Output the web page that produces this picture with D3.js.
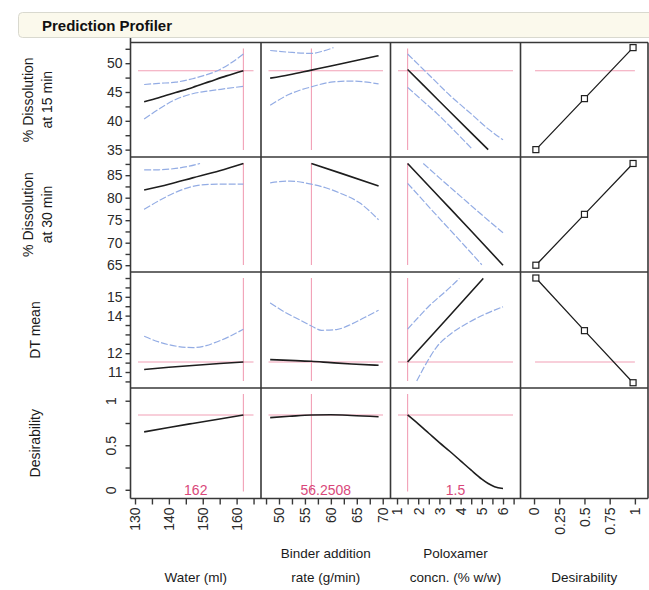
<!DOCTYPE html>
<html><head><meta charset="utf-8">
<script src="https://cdn.jsdelivr.net/npm/d3@7"></script>
<style>
body{margin:0;background:#fff;}
svg{display:block;font-family:"Liberation Sans",Arial,sans-serif;}
</style></head><body>
<svg id="chart" width="649" height="590"></svg>
<script>
// ---------- DATA ----------
const factorNames = [["Water (ml)"], ["Binder addition", "rate (g/min)"], ["Poloxamer", "concn. (% w/w)"], ["Desirability"]];
const responseNames = [["% Dissolution", "at 15 min"], ["% Dissolution", "at 30 min"], ["DT mean"], ["Desirability"]];
const currentFactor = [162, 56.2508, 1.5];
const currentFactorText = ["162", "56.2508", "1.5"];
const currentResponse = [48.7, 87.6, 11.53, 0.84];
const showCurrentLine = [true, false, true, true];

const xDomains = [[128.67, 167.2], [46.53, 71.5], [0.693, 6.825], [-0.134, 1.13]];
const yDomains = [[33.72, 53.59], [63.49, 89.04], [10.15, 16.32], [-0.098, 1.143]];

const xTicksWater = [130, 135, 140, 145, 150, 155, 160, 165];
const xTicksBinder = [47.5, 50, 52.5, 55, 57.5, 60, 62.5, 65, 67.5, 70];
const xTicksPolox = [1, 1.5, 2, 2.5, 3, 3.5, 4, 4.5, 5, 5.5, 6, 6.5];
const xTicksDesir = [0, 0.25, 0.5, 0.75, 1];
const xLabelsWater = [130, 140, 150, 160];
const xLabelsBinder = [50, 55, 60, 65, 70];
const xLabelsPolox = [1, 2, 3, 4, 5, 6];
const xLabelsDesir = [0, 0.25, 0.5, 0.75, 1];

const yTicksDiss15 = [35, 37.5, 40, 42.5, 45, 47.5, 50, 52.5];
const yTicksDiss30 = [65, 67.5, 70, 72.5, 75, 77.5, 80, 82.5, 85, 87.5];
const yTicksDT = [10.5, 11, 11.5, 12, 12.5, 13, 13.5, 14, 14.5, 15, 15.5, 16];
const yTicksDes = [0, 0.25, 0.5, 0.75, 1];
const yLabelsDiss15 = [35, 40, 45, 50];
const yLabelsDiss30 = [65, 70, 75, 80, 85];
const yLabelsDT = [11, 12, 14, 15];
const yLabelsDes = [0, 0.5, 1];

// % Dissolution at 15 min
const d15Water = [[132.7,43.3],[137,44.0],[142,44.9],[147,45.8],[152,46.8],[157,47.8],[162,48.7]];
const d15WaterHi = [[132.7,46.3],[137,46.5],[142,46.7],[147,47.3],[150,47.8],[154,48.6],[158,49.9],[162,51.6]];
const d15WaterLo = [[132.7,40.3],[137,42.0],[142,43.7],[147,44.7],[152,45.2],[157,45.6],[162,46.0]];
const d15Binder = [[48.3,47.4],[52,48.0],[56.25,48.8],[60,49.5],[64,50.3],[69.2,51.3]];
const d15BinderHi = [[48.3,52.2],[52,51.9],[56.25,51.7],[58.5,52.1],[60.5,52.7]];
const d15BinderLo = [[48.3,42.7],[52,44.6],[56.25,45.9],[60,46.7],[63.7,46.9],[67,46.7],[69.2,46.4]];
const d15Polox = [[1.5,48.9],[3,43.4],[4.5,37.9],[5.3,35.0]];
const d15PoloxHi = [[1.5,51.6],[2.5,48.0],[3.5,44.4],[4.5,41.2],[5.3,38.6],[6,36.7]];
const d15PoloxLo = [[1.5,45.8],[2.2,43.5],[2.9,41.2],[3.7,38.3],[4.52,35.2]];
const d15Desir = [[0.0183,35.0],[0.5,43.85],[0.9819,52.7]];

// % Dissolution at 30 min
const d30Water = [[132.7,81.7],[140,83.0],[147,84.4],[155,86.0],[162,87.6]];
const d30WaterHi = [[132.7,86.2],[137,86.2],[142,86.5],[146,87.0],[149.2,87.6]];
const d30WaterLo = [[132.7,77.4],[137,79.3],[142.3,81.3],[146,82.3],[149.2,82.8],[155,83.0],[162,83.0]];
const d30Binder = [[56.25,87.6],[62,85.4],[69.2,82.6]];
const d30BinderHi = [];
const d30BinderLo = [[48.3,83.3],[52.1,83.7],[56.25,83.0],[59,82.2],[61.8,81.0],[65.6,78.8],[69.2,75.1]];
const d30Polox = [[1.5,87.6],[3,80.1],[4.5,72.6],[6,65.0]];
const d30PoloxHi = [[2.24,87.6],[3,84.4],[4,80.3],[5,76.2],[6,72.2]];
const d30PoloxLo = [[1.5,83.2],[3,75.4],[4,70.3],[5,65.1]];
const d30Desir = [[0.0183,65.0],[0.5,76.3],[0.9819,87.6]];

// DT mean
const dtWater = [[132.7,11.13],[140,11.25],[147,11.35],[155,11.45],[162,11.53]];
const dtWaterHi = [[132.7,12.9],[137,12.6],[142.3,12.37],[147.2,12.3],[151,12.4],[154.1,12.6],[158,12.9],[162,13.28]];
const dtWaterLo = [];
const dtBinder = [[48.3,11.66],[52,11.62],[56.25,11.57],[60,11.5],[64,11.43],[69.2,11.36]];
const dtBinderHi = [[48.3,14.68],[51,14.2],[54.1,13.76],[56.25,13.45],[58.2,13.22],[61.1,13.26],[64,13.55],[66.5,13.9],[69.2,14.29]];
const dtBinderLo = [];
const dtPolox = [[1.5,11.53],[3.3,13.77],[5.07,15.98]];
const dtPoloxHi = [[1.5,13.28],[2,13.9],[2.5,14.5],[3,15.0],[3.5,15.5],[3.94,15.98]];
const dtPoloxLo = [[1.93,10.52],[2.3,11.3],[2.87,12.33],[3.5,13.0],[4.29,13.58],[5.1,14.05],[6,14.47]];
const dtDesir = [[0.0183,16.0],[0.5,13.2],[0.9819,10.43]];

// Desirability
const desWater = [[132.7,0.65],[140,0.70],[147,0.745],[155,0.795],[162,0.84]];
const desBinder = [[48.3,0.81],[52,0.825],[56.25,0.84],[60,0.842],[64,0.835],[69.2,0.82]];
const desPolox = [[1.5,0.84],[2,0.74],[2.5,0.635],[3,0.53],[3.5,0.43],[4,0.325],[4.5,0.22],[5,0.12],[5.3,0.07],[5.6,0.035],[6,0.015]];

// ---------- LAYOUT ----------
const colEdges = [130.5, 261, 390.5, 520.5, 648];
const rowEdges = [42.5, 157, 272, 388, 498.5];
const xTicks = [xTicksWater, xTicksBinder, xTicksPolox, xTicksDesir];
const xLabels = [xLabelsWater, xLabelsBinder, xLabelsPolox, xLabelsDesir];
const yTicks = [yTicksDiss15, yTicksDiss30, yTicksDT, yTicksDes];
const yLabels = [yLabelsDiss15, yLabelsDiss30, yLabelsDT, yLabelsDes];

const profiles = [
  [[d15Water, d15WaterHi, d15WaterLo], [d15Binder, d15BinderHi, d15BinderLo], [d15Polox, d15PoloxHi, d15PoloxLo]],
  [[d30Water, d30WaterHi, d30WaterLo], [d30Binder, d30BinderHi, d30BinderLo], [d30Polox, d30PoloxHi, d30PoloxLo]],
  [[dtWater, dtWaterHi, dtWaterLo], [dtBinder, dtBinderHi, dtBinderLo], [dtPolox, dtPoloxHi, dtPoloxLo]],
  [[desWater, [], []], [desBinder, [], []], [desPolox, [], []]]
];
const desirCurves = [d15Desir, d30Desir, dtDesir];

const PINK = "#f2a0b6", PINKTXT = "#d9487a", BLUE = "#93acE4", BLACK = "#1e1e1e", FRAME = "#383838";

const svg = d3.select("#chart");
const defs = svg.append("defs");

// Title bar
svg.append("rect").attr("x", 18.5).attr("y", 12.5).attr("width", 640).attr("height", 25)
  .attr("rx", 4).attr("fill", "#fbf9ec").attr("stroke", "#d9d9cf");
svg.append("text").attr("x", 42).attr("y", 31).attr("font-size", 15).attr("font-weight", "bold")
  .attr("fill", "#111").text("Prediction Profiler");

const xScales = xDomains.map((d, i) => d3.scaleLinear().domain(d).range([colEdges[i], colEdges[i + 1]]));
const yScales = yDomains.map((d, i) => d3.scaleLinear().domain(d).range([rowEdges[i + 1], rowEdges[i]]));

const plot = svg.append("g");

for (let r = 0; r < 4; r++) {
  for (let c = 0; c < 4; c++) {
    const id = `clip-${r}-${c}`;
    defs.append("clipPath").attr("id", id).append("rect")
      .attr("x", colEdges[c]).attr("y", rowEdges[r])
      .attr("width", colEdges[c + 1] - colEdges[c]).attr("height", rowEdges[r + 1] - rowEdges[r]);
    const g = plot.append("g").attr("clip-path", `url(#${id})`);
    const xs = xScales[c], ys = yScales[r];
    const line = d3.line().x(d => xs(d[0])).y(d => ys(d[1])).curve(d3.curveMonotoneX);

    if (c < 3) {
      const cx = xs(currentFactor[c]);
      g.append("line").attr("x1", cx).attr("x2", cx)
        .attr("y1", rowEdges[r] + 6).attr("y2", rowEdges[r + 1] - 7)
        .attr("stroke", PINK).attr("stroke-width", 1.1);
      if (showCurrentLine[r]) {
        const cy = ys(currentResponse[r]);
        g.append("line").attr("x1", colEdges[c] + 7.5).attr("x2", colEdges[c + 1] - 7.5)
          .attr("y1", cy).attr("y2", cy).attr("stroke", PINK).attr("stroke-width", 1.1);
      }
      const [mid, hi, lo] = profiles[r][c];
      [hi, lo].forEach(arr => {
        if (arr.length) g.append("path").datum(arr).attr("d", line).attr("fill", "none")
          .attr("stroke", BLUE).attr("stroke-width", 1.2).attr("stroke-dasharray", "7,2");
      });
      g.append("path").datum(mid).attr("d", line).attr("fill", "none")
        .attr("stroke", BLACK).attr("stroke-width", 1.6);
    } else if (r < 3) {
      if (showCurrentLine[r]) {
        const cy = ys(currentResponse[r]);
        g.append("line").attr("x1", xs(0) + 1).attr("x2", xs(1)).attr("y1", cy).attr("y2", cy)
          .attr("stroke", PINK).attr("stroke-width", 1.1);
      }
      const dl = d3.line().x(d => xs(d[0])).y(d => ys(d[1]));
      g.append("path").datum(desirCurves[r]).attr("d", dl).attr("fill", "none")
        .attr("stroke", BLACK).attr("stroke-width", 1.3);
      g.selectAll("rect.mk").data(desirCurves[r]).join("rect").attr("class", "mk")
        .attr("x", d => xs(d[0]) - 3).attr("y", d => ys(d[1]) - 3)
        .attr("width", 6).attr("height", 6).attr("fill", "#fff")
        .attr("stroke", BLACK).attr("stroke-width", 1.2);
    }
  }
}

// current factor value labels
for (let c = 0; c < 3; c++) {
  svg.append("text").attr("x", (colEdges[c] + colEdges[c + 1]) / 2).attr("y", 495)
    .attr("text-anchor", "middle").attr("font-size", 14).attr("fill", PINKTXT)
    .text(currentFactorText[c]);
}

// Frame
const frame = svg.append("g").attr("stroke", FRAME).attr("stroke-width", 1.6).attr("fill", "none");
rowEdges.forEach(y => frame.append("line").attr("x1", colEdges[0]).attr("x2", colEdges[4]).attr("y1", y).attr("y2", y));
colEdges.forEach((x, i) => frame.append("line").attr("x1", x).attr("x2", x)
  .attr("y1", i === 0 ? 38 : rowEdges[0]).attr("y2", rowEdges[4]));

// Y axes
for (let r = 0; r < 4; r++) {
  const ax = d3.axisLeft(yScales[r]).tickValues(yTicks[r]).tickSize(5).tickSizeOuter(0)
    .tickFormat(d => yLabels[r].includes(d) ? d3.format("")(d) : "");
  const g = svg.append("g").attr("transform", `translate(${colEdges[0]},0)`).call(ax);
  g.select(".domain").remove();
  g.selectAll(".tick line").attr("stroke", FRAME).attr("stroke-width", 1.4);
  const txt = g.selectAll(".tick text").attr("font-size", 14).attr("fill", "#2a2a2a")
    .attr("font-family", "Liberation Sans, Arial, sans-serif").attr("x", -8);
  if (r === 3) {
    txt.attr("x", 0).attr("y", 0).attr("dy", 0).attr("text-anchor", "middle")
      .attr("transform", "translate(-15,0) rotate(-90)");
  }
}

// X axes
for (let c = 0; c < 4; c++) {
  const ax = d3.axisBottom(xScales[c]).tickValues(xTicks[c]).tickSize(6).tickSizeOuter(0)
    .tickFormat(d => xLabels[c].includes(d) ? d3.format("")(d) : "");
  const g = svg.append("g").attr("transform", `translate(0,${rowEdges[4]})`).call(ax);
  g.select(".domain").remove();
  g.selectAll(".tick line").attr("stroke", FRAME).attr("stroke-width", 1.4);
  g.selectAll(".tick text").attr("font-size", 14).attr("fill", "#2a2a2a")
    .attr("font-family", "Liberation Sans, Arial, sans-serif")
    .attr("transform", "rotate(-90)").attr("x", -9).attr("y", 0).attr("dy", "0.35em")
    .style("text-anchor", "end");
}

// X axis titles
factorNames.forEach((lines, c) => {
  const cx = (colEdges[c] + colEdges[c + 1]) / 2;
  lines.forEach((t, i) => {
    svg.append("text").attr("x", cx).attr("y", 582 - (lines.length - 1 - i) * 24)
      .attr("text-anchor", "middle").attr("font-size", 13.5).attr("fill", "#1a1a1a").text(t);
  });
});

// Y axis titles
responseNames.forEach((lines, r) => {
  const cy = (rowEdges[r] + rowEdges[r + 1]) / 2;
  const base = lines.length === 2 ? [33, 52] : [40];
  lines.forEach((t, i) => {
    svg.append("text").attr("transform", `translate(${base[i]},${cy}) rotate(-90)`)
      .attr("text-anchor", "middle").attr("font-size", 14).attr("fill", "#1a1a1a").text(t);
  });
});
</script>
</body></html>
